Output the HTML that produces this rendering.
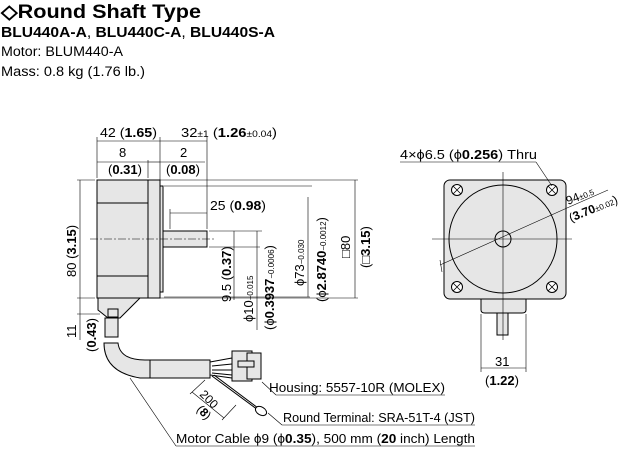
<!DOCTYPE html>
<html><head><style>
body{margin:0;background:#fff;width:635px;height:450px;overflow:hidden}
svg{display:block}
text{font-family:"Liberation Sans",sans-serif;fill:#000}
.b{font-weight:bold}
</style></head><body>
<svg width="635" height="450" viewBox="0 0 635 450">
<text x="1" y="18" font-size="19" class="b" textLength="200" lengthAdjust="spacingAndGlyphs">◇Round Shaft Type</text>
<text x="1" y="37" font-size="15" class="b" textLength="274" lengthAdjust="spacingAndGlyphs">BLU440A-A<tspan font-weight="normal">,</tspan> BLU440C-A<tspan font-weight="normal">,</tspan> BLU440S-A</text>
<text x="1" y="56" font-size="13.5" textLength="122" lengthAdjust="spacingAndGlyphs">Motor: BLUM440-A</text>
<text x="1" y="76" font-size="13.5" textLength="144" lengthAdjust="spacingAndGlyphs">Mass: 0.8 kg (1.76 lb.)</text>

<g stroke="#000" stroke-width="1" fill="#e6e6e6">
<rect x="97" y="180" width="51" height="118"/>
<rect x="148" y="180" width="12" height="118"/>
<rect x="160" y="186" width="3" height="106"/>
<rect x="163" y="231" width="44" height="16"/>
<line x1="97" y1="203" x2="148" y2="203"/>
<line x1="97" y1="276" x2="148" y2="276"/>
<path d="M98 298 L98 310 L108 318 L120 318 L140 298 Z"/>
<rect x="108" y="309" width="10" height="8"/>
<path d="M105 318 L118 318 L118 337 L105 337 Z"/>
<path d="M104 343 Q104 372 140 378 L210 378 L210 360 L145 360 Q120 360 118 343 Z"/>
<rect x="150" y="360" width="60" height="18"/>
<path d="M210 362 L232 358 L232 378 L210 375 Z" fill="#fff"/>
<line x1="212" y1="366" x2="232" y2="364"/><line x1="212" y1="370" x2="232" y2="370"/><line x1="212" y1="373" x2="232" y2="375"/>
<rect x="232" y="351" width="20" height="30"/>
<rect x="247" y="353" width="14" height="26"/>
<rect x="238" y="361" width="16" height="6"/>
<line x1="212" y1="376" x2="258" y2="410"/><line x1="214" y1="375" x2="258" y2="408"/>
<ellipse cx="261" cy="411" rx="6" ry="4" transform="rotate(30 261 411)" fill="#fff"/>
<rect x="444" y="180" width="122" height="119" rx="6"/>
<circle cx="503" cy="239" r="54"/>
<circle cx="503" cy="239" r="8"/>
<path d="M481 299 L481 310 Q481 313 485 313 L522 313 Q526 313 526 310 L526 299 Z"/>
<rect x="497" y="313" width="11" height="22"/>
</g>
<g stroke="#000" stroke-width="1" fill="#fff">
<circle cx="457" cy="190" r="5.5"/><circle cx="552" cy="190" r="5.5"/><circle cx="457" cy="287" r="5.5"/><circle cx="552" cy="287" r="5.5"/>
</g>
<g stroke="#000" stroke-width="0.8">
<path d="M453 186l8 8M461 186l-8 8M548 186l8 8M556 186l-8 8M453 283l8 8M461 283l-8 8M548 283l8 8M556 283l-8 8"/>
</g>
<g stroke="#000" stroke-width="0.6" fill="none">
<line x1="90" y1="239" x2="215" y2="239" stroke-dasharray="8 2 2 2"/>
<line x1="432" y1="239" x2="572" y2="239"/>
<line x1="503" y1="172" x2="503" y2="340"/>
<line x1="440" y1="265" x2="567" y2="208"/>
<line x1="440" y1="260" x2="442" y2="272"/>
<line x1="567" y1="208" x2="608" y2="190"/>
<line x1="97" y1="178" x2="97" y2="137"/><line x1="160" y1="184" x2="160" y2="137"/><line x1="207" y1="229" x2="207" y2="137"/>
<line x1="97" y1="141" x2="160" y2="141"/><line x1="160" y1="141" x2="207" y2="141"/>
<line x1="148" y1="178" x2="148" y2="160"/>
<line x1="97" y1="162" x2="148" y2="162"/><line x1="148" y1="162" x2="160" y2="162"/>
<line x1="160" y1="162" x2="205" y2="162"/>
<line x1="170" y1="213" x2="207" y2="213"/>
<line x1="170" y1="229" x2="170" y2="209"/>
<line x1="77" y1="180" x2="95" y2="180"/><line x1="77" y1="298" x2="95" y2="298"/>
<line x1="80" y1="180" x2="80" y2="340"/>
<line x1="77" y1="314" x2="100" y2="314"/>
<line x1="209" y1="247" x2="260" y2="247"/>
<line x1="209" y1="231" x2="262" y2="231"/>
<line x1="234" y1="231" x2="234" y2="300"/>
<line x1="257" y1="231" x2="257" y2="330"/>
<line x1="164" y1="297" x2="310" y2="297"/>
<line x1="164" y1="186" x2="312" y2="186"/>
<line x1="308" y1="197" x2="308" y2="297"/>
<line x1="150" y1="180" x2="358" y2="180"/>
<line x1="150" y1="298" x2="358" y2="298"/>
<line x1="355" y1="180" x2="355" y2="298"/>
<line x1="481" y1="314" x2="481" y2="372"/><line x1="526" y1="314" x2="526" y2="372"/>
<line x1="481" y1="368" x2="526" y2="368"/>
<line x1="400" y1="162" x2="536" y2="162"/><line x1="536" y1="162" x2="552" y2="186"/>
<line x1="262" y1="382" x2="276" y2="395"/><line x1="276" y1="395" x2="445" y2="395"/>
<line x1="268" y1="413" x2="282" y2="425"/><line x1="282" y1="425" x2="475" y2="425"/>
<line x1="130" y1="378" x2="176" y2="446"/><line x1="176" y1="446" x2="475" y2="446"/>
<line x1="205" y1="380" x2="190" y2="394"/><line x1="236" y1="405" x2="222" y2="420"/>
<line x1="192" y1="392" x2="224" y2="418"/>
</g>
<g font-size="13">
<text x="100" y="137" textLength="57" lengthAdjust="spacingAndGlyphs">42 (<tspan class="b">1.65</tspan>)</text>
<text x="181" y="137" textLength="96" lengthAdjust="spacingAndGlyphs">32<tspan font-size="9">±1</tspan> (<tspan class="b">1.26</tspan><tspan font-size="9">±0.04</tspan>)</text>
<text x="119" y="157">8</text><text x="108" y="174">(<tspan class="b">0.31</tspan>)</text>
<text x="180" y="157">2</text><text x="166" y="174">(<tspan class="b">0.08</tspan>)</text>
<text x="210" y="210" textLength="56" lengthAdjust="spacingAndGlyphs">25 (<tspan class="b">0.98</tspan>)</text>
<text x="495" y="366">31</text><text x="485" y="385">(<tspan class="b">1.22</tspan>)</text>
<text x="400" y="159" textLength="137" lengthAdjust="spacingAndGlyphs">4×ϕ6.5 (ϕ<tspan class="b">0.256</tspan>) Thru</text>
<text transform="translate(568 205) rotate(-22)" font-size="12">94<tspan font-size="8">±0.5</tspan></text>
<text transform="translate(571 222) rotate(-22)" font-size="12">(<tspan class="b">3.70</tspan><tspan font-size="8">±0.02</tspan>)</text>
<text x="269" y="392" textLength="176" lengthAdjust="spacingAndGlyphs">Housing: 5557-10R (MOLEX)</text>
<text x="283" y="422" textLength="192" lengthAdjust="spacingAndGlyphs">Round Terminal: SRA-51T-4 (JST)</text>
<text x="176" y="443" textLength="299" lengthAdjust="spacingAndGlyphs">Motor Cable ϕ9 (ϕ<tspan class="b">0.35</tspan>),  500 mm (<tspan class="b">20</tspan> inch) Length</text>
<text transform="translate(199 395) rotate(45)" font-size="12">200</text>
<text transform="translate(196 410) rotate(45)" font-size="12">(<tspan class="b">8</tspan>)</text>
<text transform="translate(76 277) rotate(-90)">80 (<tspan class="b">3.15</tspan>)</text>
<text transform="translate(76 338) rotate(-90)">11</text>
<text transform="translate(96 352) rotate(-90)">(<tspan class="b">0.43</tspan>)</text>
<text transform="translate(231 302) rotate(-90)">9.5 (<tspan class="b">0.37</tspan>)</text>
<text transform="translate(253 322) rotate(-90)">ϕ10<tspan font-size="8">−0.015</tspan></text>
<text transform="translate(274 330) rotate(-90)">(ϕ<tspan class="b">0.3937</tspan><tspan font-size="8">−0.0006</tspan>)</text>
<text transform="translate(304 286) rotate(-90)">ϕ73<tspan font-size="8">−0.030</tspan></text>
<text transform="translate(326 302) rotate(-90)">(ϕ<tspan class="b">2.8740</tspan><tspan font-size="8">−0.0012</tspan>)</text>
<text transform="translate(350 258) rotate(-90)">□80</text>
<text transform="translate(370 268) rotate(-90)">(□<tspan class="b">3.15</tspan>)</text>
</g>
</svg>
</body></html>
